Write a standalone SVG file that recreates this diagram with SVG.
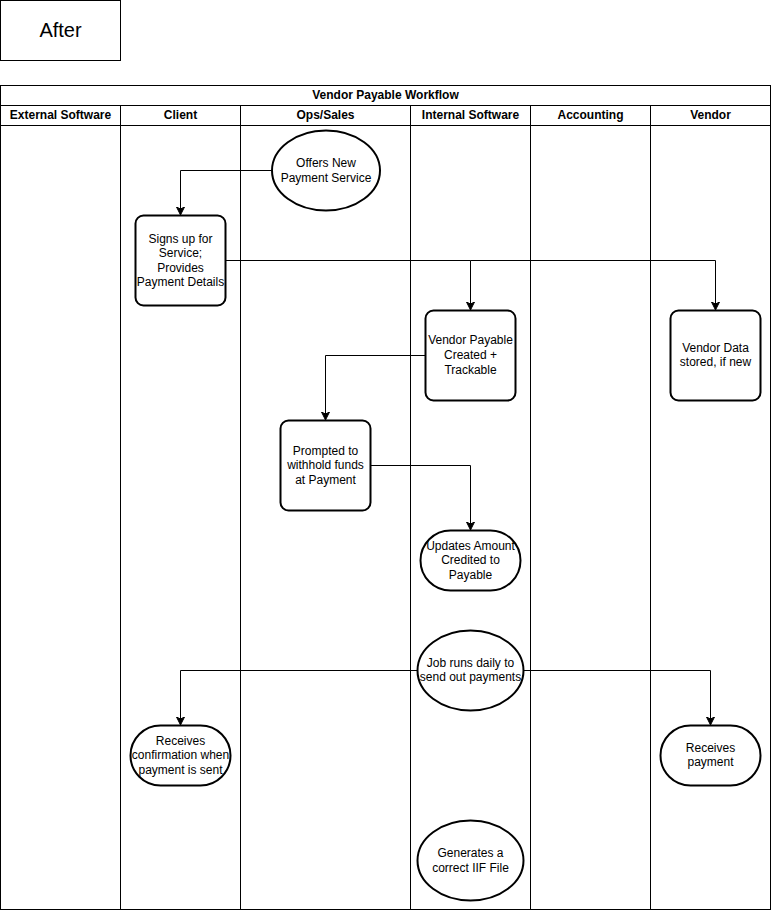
<svg xmlns="http://www.w3.org/2000/svg" width="771" height="912" viewBox="0 0 771 912">
<style>
text{font-family:"Liberation Sans",Arial,sans-serif;font-size:12px;fill:#000;text-anchor:middle}
.b{font-weight:bold}
.lane{fill:#fff;stroke:#000;stroke-width:1}
.node{fill:#fff;stroke:#000;stroke-width:2}
.edge{fill:none;stroke:#000;stroke-width:1;marker-end:url(#arr)}
</style>
<defs>
<marker id="arr" markerUnits="userSpaceOnUse" markerWidth="10" markerHeight="10" refX="8" refY="4" orient="auto">
<path d="M0,0 L8,4 L0,8 L2,4 z" fill="#000" stroke="#000" stroke-width="1"/>
</marker>
</defs>
<rect width="771" height="912" fill="#fff"/>
<g id="after">
<rect class="lane" x="0.5" y="0.5" width="120" height="60"/>
<text x="60.5" y="37" style="font-size:20px">After</text>
</g>
<g id="pool">
<rect class="lane" x="0.5" y="85.5" width="770" height="824"/>
<line x1="0.5" y1="105.5" x2="770.5" y2="105.5" stroke="#000"/>
<text class="b" x="385.5" y="99">Vendor Payable Workflow</text>
<line x1="0.5" y1="125.5" x2="770.5" y2="125.5" stroke="#000"/>
<line x1="120.5" y1="105.5" x2="120.5" y2="909.5" stroke="#000"/>
<line x1="240.5" y1="105.5" x2="240.5" y2="909.5" stroke="#000"/>
<line x1="410.5" y1="105.5" x2="410.5" y2="909.5" stroke="#000"/>
<line x1="530.5" y1="105.5" x2="530.5" y2="909.5" stroke="#000"/>
<line x1="650.5" y1="105.5" x2="650.5" y2="909.5" stroke="#000"/>
<text class="b" x="60.5" y="119">External Software</text>
<text class="b" x="180.5" y="119">Client</text>
<text class="b" x="325.5" y="119">Ops/Sales</text>
<text class="b" x="470.5" y="119">Internal Software</text>
<text class="b" x="590.5" y="119">Accounting</text>
<text class="b" x="710.5" y="119">Vendor</text>
</g>
<g id="connectors">
<polyline class="edge" points="272,170.5 180.5,170.5 180.5,215"/>
<polyline class="edge" points="225,260.5 470.5,260.5 470.5,310"/>
<polyline class="edge" points="470.5,260.5 715.5,260.5 715.5,310"/>
<polyline class="edge" points="425,355.5 325.5,355.5 325.5,420"/>
<polyline class="edge" points="370,465.5 470.5,465.5 470.5,530"/>
<polyline class="edge" points="417,670.5 180.5,670.5 180.5,725"/>
<polyline class="edge" points="523,670.5 710.5,670.5 710.5,725"/>
</g>
<g id="offers">
<ellipse class="node" cx="326" cy="170.5" rx="54" ry="40"/>
<text x="326" y="167">Offers New</text>
<text x="326" y="182">Payment Service</text>
</g>
<g id="signup">
<rect class="node" x="135.5" y="215.5" width="90" height="90" rx="8"/>
<text x="180.5" y="243">Signs up for</text>
<text x="180.5" y="257">Service;</text>
<text x="180.5" y="272">Provides</text>
<text x="180.5" y="286">Payment Details</text>
</g>
<g id="payable">
<rect class="node" x="425.5" y="310.5" width="90" height="90" rx="8"/>
<text x="470.5" y="344">Vendor Payable</text>
<text x="470.5" y="359">Created +</text>
<text x="470.5" y="374">Trackable</text>
</g>
<g id="vendordata">
<rect class="node" x="670.5" y="310.5" width="90" height="90" rx="8"/>
<text x="715.5" y="352">Vendor Data</text>
<text x="715.5" y="366">stored, if new</text>
</g>
<g id="prompted">
<rect class="node" x="280.5" y="420.5" width="90" height="90" rx="8"/>
<text x="325.5" y="455">Prompted to</text>
<text x="325.5" y="469">withhold funds</text>
<text x="325.5" y="484">at Payment</text>
</g>
<g id="updates">
<rect class="node" x="420.5" y="530.5" width="100" height="60" rx="30" ry="30"/>
<text x="470.5" y="550">Updates Amount</text>
<text x="470.5" y="564">Credited to</text>
<text x="470.5" y="579">Payable</text>
</g>
<g id="job">
<ellipse class="node" cx="470.5" cy="670.5" rx="53" ry="40"/>
<text x="470.5" y="667">Job runs daily to</text>
<text x="470.5" y="681">send out payments</text>
</g>
<g id="confirm">
<rect class="node" x="130.5" y="725.5" width="100" height="60" rx="30" ry="30"/>
<text x="180.5" y="745">Receives</text>
<text x="180.5" y="759">confirmation when</text>
<text x="180.5" y="774">payment is sent</text>
</g>
<g id="receives">
<rect class="node" x="660.5" y="725.5" width="100" height="60" rx="30" ry="30"/>
<text x="710.5" y="752">Receives</text>
<text x="710.5" y="766">payment</text>
</g>
<g id="iif">
<ellipse class="node" cx="470.5" cy="860.5" rx="53" ry="40"/>
<text x="470.5" y="857">Generates a</text>
<text x="470.5" y="872">correct IIF File</text>
</g>
</svg>
